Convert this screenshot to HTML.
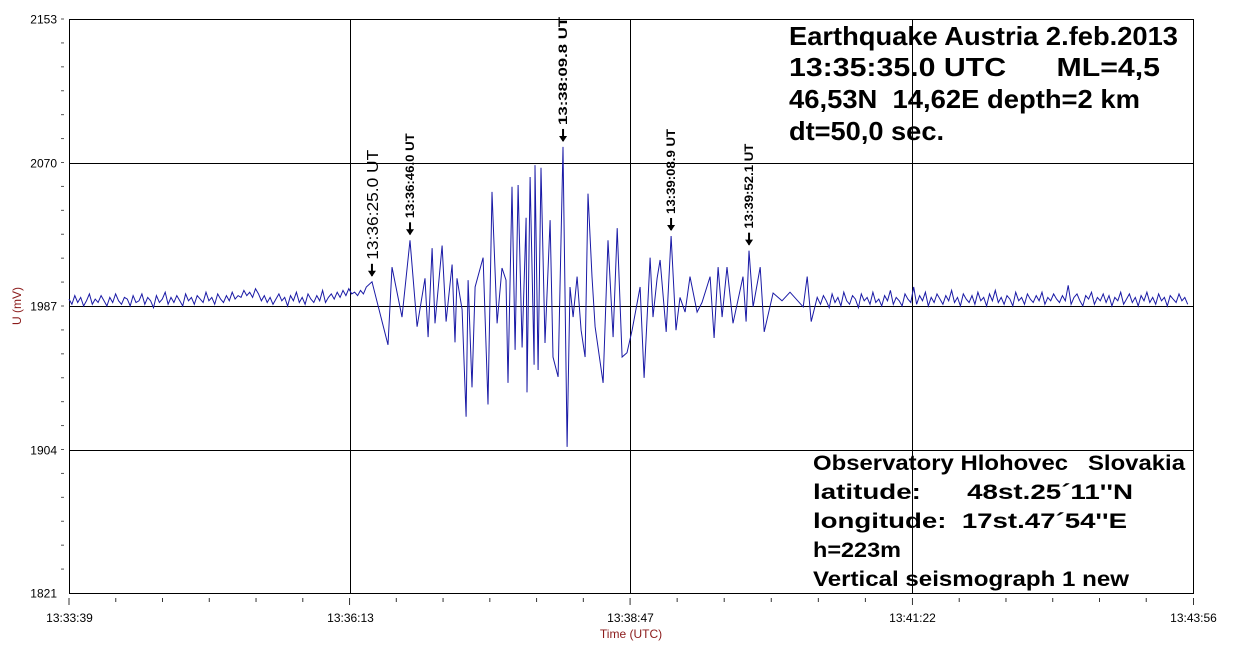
<!DOCTYPE html>
<html><head><meta charset="utf-8"><style>
body{margin:0;background:#fff;width:1248px;height:652px;overflow:hidden;font-family:"Liberation Sans",Arial,sans-serif}
</style></head><body>
<svg id="chart" width="1248" height="652" xmlns="http://www.w3.org/2000/svg" font-family="Liberation Sans, Arial, sans-serif">
<g id="grid"></g>
<g id="axes"></g>
<path id="trace" fill="none" stroke="#1a1aa6" stroke-width="1"/>
<g id="marks"></g>
<text transform="translate(21,306) rotate(-90)" text-anchor="middle" font-size="12" fill="#8b1a1a">U (mV)</text>
<text x="631" y="638" text-anchor="middle" font-size="12" fill="#8b1a1a">Time (UTC)</text>
<g font-weight="bold" font-size="26" fill="#000">
<text x="789" y="45" textLength="389" lengthAdjust="spacingAndGlyphs">Earthquake Austria 2.feb.2013</text>
<text x="789" y="76" textLength="371" lengthAdjust="spacingAndGlyphs" xml:space="preserve">13:35:35.0 UTC      ML=4,5</text>
<text x="789" y="108" textLength="351" lengthAdjust="spacingAndGlyphs" xml:space="preserve">46,53N  14,62E depth=2 km</text>
<text x="789" y="140" textLength="155" lengthAdjust="spacingAndGlyphs">dt=50,0 sec.</text>
</g>
<g font-weight="bold" font-size="21" fill="#000">
<text x="813" y="470" textLength="372" lengthAdjust="spacingAndGlyphs" xml:space="preserve">Observatory Hlohovec   Slovakia</text>
<text x="813" y="499" textLength="320" lengthAdjust="spacingAndGlyphs" xml:space="preserve">latitude:      48st.25´11''N</text>
<text x="813" y="528" textLength="314" lengthAdjust="spacingAndGlyphs" xml:space="preserve">longitude:  17st.47´54''E</text>
<text x="813" y="557" textLength="88" lengthAdjust="spacingAndGlyphs">h=223m</text>
<text x="813" y="586" textLength="316" lengthAdjust="spacingAndGlyphs">Vertical seismograph 1 new</text>
</g>
</svg>
<script>
const yTicks=[2153,2070,1987,1904,1821];
const xTickLabels=["13:33:39","13:36:13","13:38:47","13:41:22","13:43:56"];
const xTickSeconds=[0,154,308,463,617];
const noiseStep=1.6;
const noiseBeforeStart=0;
const noiseBefore=[1991,1988,1993,1989,1992,1987,1990,1994,1988,1991,1989,1993,1990,1987,1992,1989,1994,1990,1988,1992,1991,1987,1993,1989,1990,1994,1988,1992,1990,1986,1993,1989,1991,1995,1988,1992,1989,1993,1990,1987,1994,1990,1992,1988,1993,1991,1989,1995,1990,1992,1988,1994,1991,1989,1993,1990,1995,1991,1993,1992,1996,1993,1995,1992,1997,1994,1990,1993,1989,1992,1988,1991,1994,1990,1992,1987,1993,1990,1995,1989,1992,1988,1994,1991,1989,1993,1990,1996,1989,1992,1994,1991,1995,1992,1996,1993,1997,1994,1995,1993,1996,1994,1998];
const eventTimes=[166.3,175.1,177.3,182.8,187.2,191.1,195.4,197.1,199.3,200.9,204.8,207.0,210.3,211.9,213.0,215.8,218.0,219.1,221.2,222.9,227.3,230.0,232.2,235.0,237.7,239.9,241.0,243.2,244.9,246.5,248.7,250.9,251.4,253.1,255.3,255.8,257.5,259.1,261.3,264.1,265.7,268.5,271.2,273.4,275.0,276.7,278.9,281.1,283.3,284.9,287.1,288.8,293.2,295.9,298.7,300.9,303.6,306.3,309.1,313.5,315.7,319.0,320.6,322.8,324.5,327.8,330.5,333.2,335.4,338.2,340.9,344.8,347.5,351.9,354.1,356.3,358.5,361.2,364.5,370.0,371.7,373.3,375.5,379.4,381.6,386.5,391.4,395.8,403.0,405.2,407.4,410.7];
const eventValues=[2001,1964.5,2009.5,1980.6,2025,1975,2003,1969,2020.5,1977,2022,1978,2011,1966,2003,1985,1923,2002,1940,1998,2015,1930,2053,1977,2009,2002,1942.5,2056,1961.6,2057,1963,2038,1937,2061.6,1953,2068.5,1950,2067,1965.6,2036.7,1957.5,1946,2079,1905.5,1998,1980.6,2004,1973,1957.5,2052,2004,1975,1942.5,2025,1969,2032,1957.5,1960,1973,1998,1945.4,2015,1980.6,2003,2013.6,1972,2027.5,1973,1992,1983.5,2004,1983.5,1989,2004,1968.5,2009.5,1980.6,2009.5,1977,2004,1978,2019,1986.5,2009.5,1972,1994.5,1990,1995,1986.5,2004,1978,1992];
const noiseAfterStart=412.5;
const noiseAfter=[1988,1993,1990,1986,1994,1989,1992,1987,1995,1990,1988,1993,1991,1986,1994,1990,1992,1988,1995,1989,1991,1987,1993,1990,1996,1988,1992,1990,1987,1994,1991,1989,1998,1988,1993,1990,1995,1987,1992,1989,1994,1991,1988,1993,1990,1996,1989,1992,1987,1994,1991,1989,1993,1988,1995,1990,1992,1987,1994,1990,1996,1989,1992,1988,1993,1991,1987,1995,1990,1992,1988,1994,1991,1989,1993,1990,1995,1988,1992,1990,1994,1991,1989,1993,1990,1999,1988,1992,1994,1990,1987,1993,1991,1995,1988,1992,1990,1994,1989,1993,1987,1992,1990,1995,1988,1991,1994,1989,1992,1987,1993,1990,1995,1989,1992,1988,1994,1990,1992,1987,1993,1991,1989,1994,1990,1992,1988];
const markerLabels=["13:36:25.0 UT","13:36:46.0 UT","13:38:09.8 UT","13:39:08.9 UT","13:39:52.1 UT"];
const markerTimes=[166.3,187.2,271.2,330.5,373.3];
const markerValues=[2001,2025,2079,2027.5,2019];
const markerBig=[true,false,false,false,false];
const markerLen=[110,85,108,85,85];

const L=69,R=1193,T=19,B=593,NS="http://www.w3.org/2000/svg";
const X=t=>L+(t-0)/617*(R-L);
const Y=v=>T+(2153-v)/(2153-1821)*(B-T);
function mk(tag,attrs,parent){const e=document.createElementNS(NS,tag);for(const k in attrs)e.setAttribute(k,attrs[k]);parent.appendChild(e);return e;}
const grid=document.getElementById('grid'),axes=document.getElementById('axes'),marks=document.getElementById('marks');
yTicks.forEach((v,i)=>{
  const y=Math.round(Y(v))+0.5;
  if(i>0&&i<yTicks.length-1){const g=mk('line',{x1:L,x2:R,y1:y,y2:y,stroke:'#000','stroke-width':1},grid);
  
  }
  const t=mk('text',{x:57,y:y+4,'text-anchor':'end','font-size':12,fill:'#000'},axes);t.textContent=v;
  
  
  if(i<yTicks.length-1){for(let k=0;k<6;k++){const yy=Y(v)+k*(Y(yTicks[i+1])-Y(v))/6;mk('line',{x1:61,x2:64,y1:yy,y2:yy,stroke:'#555'},axes);}}
});
xTickSeconds.forEach((s,i)=>{
  const x=Math.round(X(s))+0.5;
  if(i>0&&i<xTickSeconds.length-1){const g=mk('line',{x1:x,x2:x,y1:T,y2:B,stroke:'#000'},grid);
  
  }
  const t=mk('text',{x:x,y:622,'text-anchor':'middle','font-size':12,fill:'#000'},axes);t.textContent=xTickLabels[i];
  
  
  if(i<xTickSeconds.length-1){for(let k=0;k<6;k++){const xx=X(s)+k*(X(xTickSeconds[i+1])-X(s))/6;mk('line',{x1:xx,x2:xx,y1:598,y2:k==0?605:602,stroke:'#333'},axes);}}
  else mk('line',{x1:x,x2:x,y1:598,y2:605,stroke:'#333'},axes);
});
const frame=mk('rect',{x:L+0.5,y:T+0.5,width:R-L,height:B-T,fill:'none',stroke:'#000'},axes);


let pts=[];
noiseBefore.forEach((v,i)=>{const t=noiseBeforeStart+i*noiseStep;if(t<eventTimes[0])pts.push([t,v]);});
eventTimes.forEach((t,i)=>pts.push([t,eventValues[i]]));
noiseAfter.forEach((v,i)=>{const t=noiseAfterStart+i*noiseStep;if(t<=617)pts.push([t,v]);});
document.getElementById('trace').setAttribute('d',pts.map((p,i)=>(i?'L':'M')+X(p[0]).toFixed(1)+' '+Y(p[1]).toFixed(1)).join(''));
markerLabels.forEach((lab,i)=>{
  const x=X(markerTimes[i]),tip=Y(markerValues[i])-6;
  const g=mk('g',{},marks);
  
  
  mk('line',{x1:x,x2:x,y1:tip-12,y2:tip,stroke:'#000','stroke-width':2},g);
  mk('polygon',{points:`${x-4},${tip-5} ${x+4},${tip-5} ${x},${tip+1}`,fill:'#000'},g);
  const fs=markerBig[i]?16:12;
  const t=mk('text',{transform:`translate(${x+(markerBig[i]?6:4)},${tip-16}) rotate(-90)`,'font-size':fs,'font-weight':markerBig[i]?'normal':'bold',fill:'#000',textLength:markerLen[i],lengthAdjust:'spacingAndGlyphs'},g);
  t.textContent=lab;
});
</script>
</body></html>
